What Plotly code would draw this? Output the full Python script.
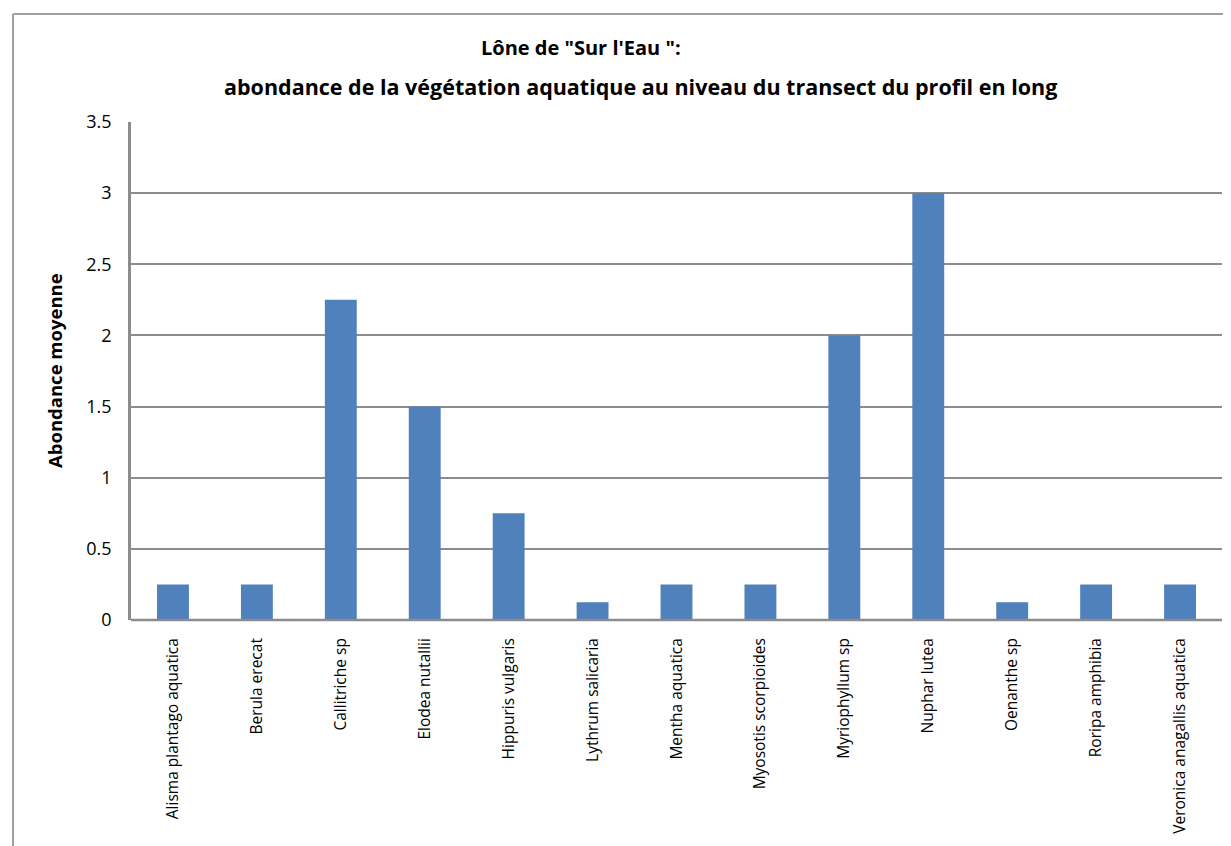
import plotly.graph_objects as go

categories = ["Alisma plantago aquatica", "Berula erecat", "Callitriche sp", "Elodea nutallii",
              "Hippuris vulgaris", "Lythrum salicaria", "Mentha aquatica", "Myosotis scorpioides",
              "Myriophyllum sp", "Nuphar lutea", "Oenanthe sp", "Roripa amphibia",
              "Veronica anagallis aquatica"]
values = [0.25, 0.25, 2.25, 1.5, 0.75, 0.125, 0.25, 0.25, 2.0, 3.0, 0.125, 0.25, 0.25]
y_ticks = [0, 0.5, 1, 1.5, 2, 2.5, 3, 3.5]
y_tick_labels = ["0", "0.5", "1", "1.5", "2", "2.5", "3", "3.5"]

FONT = "Open Sans"
OFF = 8  # page body margin
W, H = 1231 - OFF, 846 - OFF
L, R, T, B = 131 - OFF, 9, 122 - OFF, 226

fig = go.Figure(go.Bar(x=categories, y=values, marker=dict(color="#4F81BD", line=dict(width=0)),
                       width=0.38))

pw = W - L - R
ph = H - T - B
def px_x(p):
    return (p - OFF - L) / pw
def px_y(p):
    return (H - B - (p - OFF)) / ph

fig.update_layout(
    width=W, height=H,
    margin=dict(l=L, r=R, t=T, b=B, autoexpand=False),
    paper_bgcolor="white", plot_bgcolor="white",
    showlegend=False,
    font=dict(family=FONT, color="black"),
    xaxis=dict(type="category", tickangle=-90, tickfont=dict(size=15.5, family=FONT),
               showgrid=False, showline=False, ticks="", ticklabelstandoff=14,
               range=[-0.5, 12.5]),
    yaxis=dict(range=[0, 3.5], tickvals=y_ticks, ticktext=y_tick_labels,
               tickfont=dict(size=18, family=FONT), showgrid=True, gridcolor="#8C8C8C",
               gridwidth=1.5, showline=True, linecolor="#8C8C8C", linewidth=2.5,
               ticks="", ticklabelstandoff=13, zeroline=False),
    shapes=[
        dict(type="line", xref="paper", yref="paper", x0=0, x1=1, y0=0, y1=0,
             line=dict(color="#8C8C8C", width=2.5), layer="above"),
        dict(type="line", xref="paper", yref="paper", x0=px_x(13), x1=px_x(1240),
             y0=px_y(14), y1=px_y(14), line=dict(color="#A0A0A0", width=2)),
        dict(type="line", xref="paper", yref="paper", x0=px_x(13), x1=px_x(13),
             y0=px_y(14), y1=px_y(860), line=dict(color="#A0A0A0", width=2)),
    ],
    annotations=[
        dict(text="<b>Lône de \"Sur l'Eau \":</b>", xref="paper", yref="paper",
             x=px_x(581), y=px_y(48), xanchor="center", yanchor="middle", showarrow=False,
             font=dict(size=20, family=FONT)),
        dict(text="<b>abondance de la végétation aquatique au niveau du transect du profil en long</b>",
             xref="paper", yref="paper",
             x=px_x(640), y=px_y(86), xanchor="center", yanchor="middle", showarrow=False,
             font=dict(size=21.5, family=FONT)),
        dict(text="<b>Abondance moyenne</b>", xref="paper", yref="paper",
             x=px_x(54), y=px_y(371), xanchor="center", yanchor="middle", showarrow=False,
             textangle=-90, font=dict(size=18.5, family=FONT)),
    ],
)

fig.write_html("out.html")
